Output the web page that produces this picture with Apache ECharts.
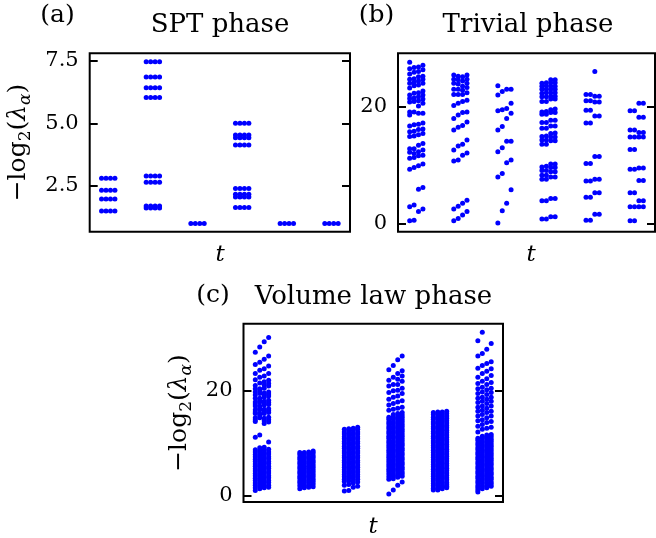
<!DOCTYPE html>
<html>
<head>
<meta charset="utf-8">
<title>Entanglement spectrum</title>
<script src="https://cdn.jsdelivr.net/npm/echarts@6/dist/echarts.min.js"></script>
<style>
  html, body { margin: 0; padding: 0; background: #fff; }
  #chart { width: 656px; height: 538px; }
</style>
</head>
<body>
<div id="chart"></div>
<script>
// t of the first step in each of the six time blocks (4 steps per block)
const blockStart = [0, 10, 20, 30, 40, 50];
const stepsPerBlock = 4;

// (a) SPT phase: levels of each block, the same at all 4 steps
const sptLevels = [
  [2.81, 2.33, 1.98, 1.50],
  [7.47, 6.86, 6.43, 6.04, 2.90, 2.65, 1.70, 1.62],
  [1.0],
  [5.01, 4.54, 4.43, 4.14, 2.40, 2.17, 2.06, 1.64],
  [1.0],
  [1.0]
];

// (b) trivial phase: one list per time step
const trivialCols = [
  [27.6, 26.5, 25.6, 24.7, 24.0, 23.2, 22.0, 21.4, 20.8, 19.1, 18.6, 16.7, 15.7, 14.9, 12.8, 12.2, 11.2, 9.3, 2.9, 0.5],
  [26.7, 25.9, 24.8, 24.2, 23.6, 22.3, 21.5, 20.9, 19.1, 16.9, 15.8, 15.0, 12.8, 12.0, 11.3, 9.6, 3.2, 0.6],
  [26.8, 26.0, 25.1, 24.4, 23.7, 22.4, 21.7, 21.0, 20.1, 18.9, 17.0, 16.1, 15.2, 13.4, 12.3, 11.6, 9.9, 5.9, 2.1],
  [27.1, 26.3, 25.2, 24.7, 24.0, 22.7, 22.0, 21.3, 20.6, 18.9, 17.2, 16.2, 15.4, 13.7, 12.6, 11.7, 10.2, 6.2, 2.5],

  [25.4, 24.7, 24.0, 23.0, 22.1, 20.2, 18.0, 16.0, 12.6, 10.7, 2.5, 0.5],
  [25.2, 24.6, 23.9, 23.0, 22.1, 20.6, 18.6, 16.5, 13.3, 10.9, 3.0, 0.9],
  [25.1, 24.4, 23.5, 22.8, 22.1, 20.9, 19.0, 16.8, 13.6, 11.7, 3.5, 1.5],
  [25.4, 24.7, 24.0, 23.3, 22.4, 21.1, 19.1, 17.4, 14.3, 12.1, 4.0, 2.1],

  [23.6, 22.0, 19.3, 16.0, 12.3, 8.0, 0.1],
  [22.6, 19.5, 16.6, 13.0, 8.6, 2.2],
  [23.0, 19.7, 18.0, 14.1, 10.4, 3.5],
  [23.0, 20.6, 18.9, 14.1, 10.9, 5.8],

  [24.0, 23.5, 23.0, 22.3, 21.7, 20.9, 19.1, 18.7, 17.3, 16.3, 14.9, 14.3, 13.6, 9.7, 9.1, 8.3, 7.6, 3.9, 0.8],
  [24.1, 23.6, 23.0, 22.4, 21.7, 20.9, 19.2, 18.7, 17.3, 16.3, 15.0, 14.3, 13.6, 9.8, 9.1, 8.3, 7.6, 3.9, 0.8],
  [24.6, 24.1, 23.5, 23.0, 22.4, 21.8, 21.3, 19.5, 19.0, 17.7, 16.7, 15.4, 14.8, 14.2, 10.2, 9.6, 8.9, 8.0, 4.3, 1.2],
  [24.6, 24.1, 23.5, 23.0, 22.4, 21.8, 21.3, 19.6, 19.0, 17.7, 16.7, 15.5, 14.8, 14.2, 10.2, 9.6, 8.9, 8.0, 4.3, 1.2],

  [22.1, 21.0, 19.4, 17.2, 10.3, 7.3, 4.5, 0.6],
  [22.1, 21.0, 19.4, 17.2, 10.3, 7.3, 4.5, 0.6],
  [26.0, 21.8, 20.8, 18.4, 11.5, 7.6, 5.3, 1.6],
  [21.8, 20.8, 18.4, 11.5, 7.6, 5.3, 1.6],

  [19.3, 16.0, 14.8, 12.7, 9.3, 5.3, 2.9, 0.5],
  [19.3, 16.0, 14.8, 12.7, 9.3, 5.3, 2.9, 0.5],
  [20.6, 18.2, 15.6, 14.8, 9.5, 7.4, 3.9, 2.9],
  [20.6, 18.2, 15.6, 14.8, 9.5, 7.4, 3.9, 2.9]
];

// (c) volume law phase: one list per time step
const volumeCols = [
  [27.2, 24.9, 23.2, 22.0, 20.9, 20.3, 19.7, 19.1, 18.5, 17.8, 17.4, 17.0, 16.3, 15.9, 15.6, 14.8, 14.4, 14.1,
   11.1, 8.7, 8.3, 7.8, 7.4, 6.9, 6.5, 6.0, 5.6, 5.1, 4.7, 4.2, 3.8, 3.3, 2.9, 2.4, 2.0, 1.5, 1.0],
  [28.2, 25.3, 23.8, 22.5, 21.4, 20.3, 19.9, 19.4, 18.5, 18.1, 17.8, 17.0, 16.6, 16.3, 15.6, 15.2, 14.8,
   11.5, 9.1, 8.6, 8.2, 7.7, 7.3, 6.8, 6.4, 5.9, 5.5, 5.0, 4.6, 4.1, 3.7, 3.2, 2.8, 2.3, 1.8, 1.3],
  [29.2, 25.9, 24.1, 22.7, 21.6, 21.0, 20.4, 19.5, 19.1, 18.7, 17.9, 17.5, 17.2, 16.4, 16.0, 15.6, 14.7, 14.2, 13.7,
   9.2, 8.6, 8.1, 7.7, 7.2, 6.8, 6.3, 5.9, 5.4, 5.0, 4.5, 4.1, 3.6, 3.2, 2.7, 2.3, 1.9, 1.5],
  [30.0, 26.5, 24.6, 23.2, 21.9, 21.3, 20.8, 19.7, 19.3, 18.9, 18.1, 17.7, 17.3, 16.5, 16.1, 15.8, 14.9, 14.4, 14.0,
   10.2, 8.8, 8.3, 7.9, 7.4, 7.0, 6.5, 6.1, 5.6, 5.2, 4.7, 4.3, 3.8, 3.4, 2.9, 2.5, 2.0, 1.6],

  [8.2, 7.8, 7.3, 6.9, 6.4, 6.0, 5.5, 5.1, 4.6, 4.2, 3.7, 3.3, 2.8, 2.4, 1.9, 1.3],
  [8.2, 7.7, 7.3, 6.8, 6.4, 5.9, 5.5, 5.0, 4.6, 4.1, 3.7, 3.2, 2.8, 2.3, 1.9, 1.5],
  [8.3, 7.9, 7.4, 7.0, 6.5, 6.1, 5.6, 5.2, 4.7, 4.3, 3.8, 3.4, 2.9, 2.5, 2.0, 1.6],
  [8.5, 8.1, 7.6, 7.2, 6.7, 6.3, 5.8, 5.4, 4.9, 4.5, 4.0, 3.6, 3.1, 2.7, 2.2, 1.7],

  [12.6, 12.1, 11.7, 11.2, 10.8, 10.3, 9.9, 9.4, 9.0, 8.5, 8.1, 7.6, 7.2, 6.7, 6.3, 5.8, 5.4, 4.9, 4.5, 4.0, 3.6, 3.1, 2.7, 2.0, 0.9],
  [12.7, 12.3, 11.8, 11.4, 10.9, 10.5, 10.0, 9.6, 9.1, 8.7, 8.2, 7.8, 7.3, 6.9, 6.4, 6.0, 5.5, 5.1, 4.6, 4.2, 3.7, 3.3, 2.8, 2.1, 1.0],
  [12.8, 12.4, 11.9, 11.5, 11.0, 10.6, 10.1, 9.7, 9.2, 8.8, 8.3, 7.9, 7.4, 7.0, 6.5, 6.1, 5.6, 5.2, 4.7, 4.3, 3.8, 3.4, 2.9, 2.4, 1.6],
  [13.0, 12.6, 12.1, 11.7, 11.2, 10.8, 10.3, 9.9, 9.4, 9.0, 8.5, 8.1, 7.6, 7.2, 6.7, 6.3, 5.8, 5.4, 4.9, 4.5, 4.0, 3.6, 3.1, 2.6, 1.8],

  [23.9, 21.9, 20.8, 19.6, 18.3, 17.2, 16.2, 14.9, 14.5, 14.0, 13.6, 13.1, 12.7, 12.2, 11.8, 11.3, 10.9, 10.4, 10.0,
   9.5, 9.1, 8.6, 8.2, 7.7, 7.3, 6.8, 6.4, 5.9, 5.5, 5.0, 4.6, 4.1, 3.6, 3.1, 0.3],
  [24.7, 22.5, 21.1, 19.9, 18.7, 17.5, 16.4, 15.4, 14.9, 14.5, 14.0, 13.6, 13.1, 12.7, 12.2, 11.8, 11.3, 10.9, 10.4,
   10.0, 9.5, 9.1, 8.6, 8.2, 7.7, 7.3, 6.8, 6.4, 5.9, 5.5, 5.0, 4.6, 4.1, 3.7, 3.2, 1.1],
  [25.8, 23.2, 22.1, 21.1, 20.0, 18.9, 17.8, 16.6, 15.6, 15.1, 14.7, 14.2, 13.8, 13.3, 12.9, 12.4, 12.0, 11.5, 11.1,
   10.6, 10.2, 9.7, 9.3, 8.8, 8.4, 7.9, 7.5, 7.0, 6.6, 6.1, 5.7, 5.2, 4.8, 4.3, 3.9, 3.5, 2.0],
  [26.5, 23.7, 22.7, 21.7, 20.4, 19.4, 18.0, 16.8, 15.8, 15.3, 14.9, 14.4, 14.0, 13.5, 13.1, 12.6, 12.2, 11.7, 11.3,
   10.8, 10.4, 9.9, 9.5, 9.0, 8.6, 8.1, 7.7, 7.2, 6.8, 6.3, 5.9, 5.4, 5.0, 4.5, 4.1, 3.7, 2.6],

  [15.8, 15.4, 14.9, 14.5, 14.0, 13.6, 13.1, 12.7, 12.2, 11.8, 11.3, 10.9, 10.4, 10.0, 9.5, 9.1, 8.6,
   8.2, 7.7, 7.3, 6.8, 6.4, 5.9, 5.5, 5.0, 4.6, 4.1, 3.7, 3.2, 2.8, 2.3, 1.9, 1.4, 1.1],
  [15.9, 15.5, 15.0, 14.6, 14.1, 13.7, 13.2, 12.8, 12.3, 11.9, 11.4, 11.0, 10.5, 10.1, 9.6, 9.2, 8.7,
   8.3, 7.8, 7.4, 6.9, 6.5, 6.0, 5.6, 5.1, 4.7, 4.2, 3.8, 3.3, 2.9, 2.4, 2.0, 1.5, 1.1],
  [15.9, 15.4, 15.0, 14.5, 14.1, 13.6, 13.2, 12.7, 12.3, 11.8, 11.4, 10.9, 10.5, 10.0, 9.6, 9.1, 8.7,
   8.2, 7.8, 7.3, 6.9, 6.4, 6.0, 5.5, 5.1, 4.6, 4.2, 3.7, 3.3, 2.8, 2.4, 1.9, 1.6, 1.3],
  [16.0, 15.6, 15.1, 14.7, 14.2, 13.8, 13.3, 12.9, 12.4, 12.0, 11.5, 11.1, 10.6, 10.2, 9.7, 9.3, 8.8,
   8.4, 7.9, 7.5, 7.0, 6.6, 6.1, 5.7, 5.2, 4.8, 4.3, 3.9, 3.4, 3.0, 2.5, 2.1, 1.8, 1.5],

  [29.4, 26.5, 24.2, 22.5, 21.3, 20.3, 19.4, 18.5, 17.7, 16.8, 16.0, 15.1, 14.2, 13.2, 12.1,
   10.9, 10.5, 10.0, 9.6, 9.1, 8.7, 8.2, 7.8, 7.3, 6.9, 6.4, 6.0, 5.5, 5.1, 4.6, 4.2, 3.7, 3.3, 2.8, 2.4, 1.9, 1.5, 1.1, 0.7],
  [31.0, 27.0, 24.7, 23.2, 21.7, 20.6, 19.7, 18.7, 17.9, 17.0, 16.2, 15.4, 14.4, 13.5, 12.6,
   11.3, 10.9, 10.4, 10.0, 9.5, 9.1, 8.6, 8.2, 7.7, 7.3, 6.8, 6.4, 5.9, 5.5, 5.0, 4.6, 4.1, 3.7, 3.2, 2.8, 2.3, 1.8, 1.3],
  [27.8, 25.1, 23.6, 22.2, 21.1, 20.1, 19.2, 18.3, 17.5, 16.6, 15.8, 14.8, 13.9, 12.8,
   11.5, 11.1, 10.6, 10.2, 9.7, 9.3, 8.8, 8.4, 7.9, 7.5, 7.0, 6.6, 6.1, 5.7, 5.2, 4.8, 4.3, 3.9, 3.4, 3.0, 2.5, 2.0, 1.5],
  [28.9, 25.4, 24.1, 22.8, 21.5, 20.4, 19.6, 18.7, 17.9, 17.0, 16.0, 15.1, 14.1, 13.0,
   11.6, 11.2, 10.7, 10.3, 9.8, 9.4, 8.9, 8.5, 8.0, 7.6, 7.1, 6.7, 6.2, 5.8, 5.3, 4.9, 4.4, 4.0, 3.5, 3.1, 2.6, 2.2, 1.8]
];

const yTicksA = [2.5, 5.0, 7.5];
const yTicksB = [0, 20];
const yTicksC = [0, 20];

const serif = "'DejaVu Serif', 'Liberation Serif', serif";
const dotColor = "#0000ff";

function tOf(k) {
  return blockStart[Math.floor(k / stepsPerBlock)] + (k % stepsPerBlock);
}

function colsToPoints(cols) {
  const pts = [];
  cols.forEach((vals, k) => vals.forEach((v) => pts.push([tOf(k), v])));
  return pts;
}

// every block of (a) shows the same levels at its 4 steps
const sptCols = [];
sptLevels.forEach((lv) => {
  for (let j = 0; j < stepsPerBlock; j++) sptCols.push(lv);
});

const grids = [
  { left: 89.7, top: 53.3, width: 260.3, height: 178.4 },
  { left: 398, top: 53.3, width: 257, height: 178.4 },
  { left: 243.5, top: 323.7, width: 259.5, height: 178.3 }
].map((g) => ({ ...g, show: true, borderColor: "#000", borderWidth: 2, outerBoundsMode: "none", containLabel: false }));

const yRanges = [
  { min: 0.67, max: 7.81, ticks: yTicksA, fmt: (v) => v.toFixed(1) },
  { min: -1.37, max: 29.13, ticks: yTicksB, fmt: (v) => String(v) },
  { min: -1.2, max: 32.64, ticks: yTicksC, fmt: (v) => String(v) }
];

const xAxes = grids.map((g, i) => ({
  gridIndex: i,
  type: "value",
  min: -2.65,
  max: 55.65,
  axisLine: { show: false, onZero: false },
  axisTick: { show: false },
  axisLabel: { show: false },
  splitLine: { show: false }
}));

const yAxes = [];
yRanges.forEach((r, i) => {
  const tick = { inside: true, length: 8, lineStyle: { color: "#000", width: 2 }, customValues: r.ticks };
  yAxes.push({
    gridIndex: i, type: "value", position: "left", min: r.min, max: r.max,
    axisLine: { show: false, onZero: false }, splitLine: { show: false }, axisTick: tick,
    axisLabel: { customValues: r.ticks, formatter: r.fmt, margin: 11, color: "#000", fontFamily: serif, fontSize: 21 }
  });
  yAxes.push({
    gridIndex: i, type: "value", position: "right", min: r.min, max: r.max,
    axisLine: { show: false, onZero: false }, splitLine: { show: false }, axisTick: tick,
    axisLabel: { show: false }
  });
});

const panelSeries = [sptCols, trivialCols, volumeCols].map((cols, i) => ({
  type: "scatter",
  xAxisIndex: i,
  yAxisIndex: i * 2,
  data: colsToPoints(cols),
  symbol: "circle",
  symbolSize: 5,
  itemStyle: { color: dotColor, opacity: 1 },
  silent: true
}));

function txt(x, y, text, size, extra) {
  return {
    type: "text", x: x, y: y,
    style: Object.assign({ text: text, fill: "#000", font: size + "px " + serif, align: "center", verticalAlign: "middle" }, extra || {})
  };
}

function yName(x, y) {
  return {
    type: "text", x: x, y: y, rotation: Math.PI / 2,
    style: {
      text: "{m|\u2212log}{s|2}{m|(}{mi|\u03bb}{si|\u03b1}{m|)}",
      align: "center", verticalAlign: "middle", fill: "#000",
      rich: {
        m: { fontFamily: serif, fontSize: 25, lineHeight: 32, fill: "#000" },
        mi: { fontFamily: serif, fontSize: 25, fontStyle: "italic", lineHeight: 32, fill: "#000" },
        s: { fontFamily: serif, fontSize: 17, lineHeight: 17, verticalAlign: "bottom", fill: "#000" },
        si: { fontFamily: serif, fontSize: 17, fontStyle: "italic", lineHeight: 17, verticalAlign: "bottom", fill: "#000" }
      }
    }
  };
}

const chart = echarts.init(document.getElementById("chart"), null, { renderer: "canvas" });
chart.setOption({
  backgroundColor: "#fff",
  animation: false,
  grid: grids,
  xAxis: xAxes,
  yAxis: yAxes,
  series: panelSeries,
  graphic: [
    txt(57.5, 15, "(a)", 25),
    txt(220, 25, "SPT phase", 26),
    txt(376.5, 15, "(b)", 25),
    txt(528, 25, "Trivial phase", 26),
    txt(213, 295, "(c)", 25),
    txt(373.5, 297, "Volume law phase", 26),
    txt(220, 255, "t", 23, { font: "italic 23px " + serif }),
    txt(531, 255, "t", 23, { font: "italic 23px " + serif }),
    txt(373, 527, "t", 23, { font: "italic 23px " + serif }),
    yName(18, 142.5),
    yName(179, 413)
  ]
});
</script>
</body>
</html>
